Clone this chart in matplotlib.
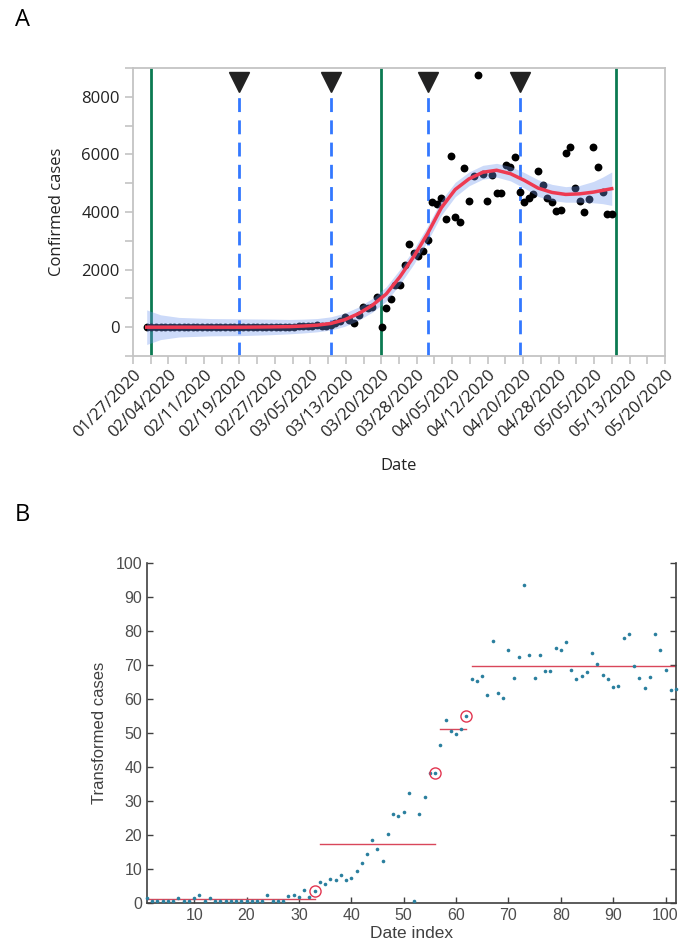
"""Confirmed cases fit (A) + transformed cases with change points (B)"""
import numpy as np
import matplotlib
matplotlib.use("Agg")
import matplotlib.pyplot as plt
from matplotlib.ticker import FixedLocator, MultipleLocator

# ── data ──
date_index = list(range(1, 103))

cases = [2, 0, 0, 0, 0, 0, 2, 0, 0, 2,
         5, 0, 2, 0, 0, 0, 0, 0, 0, 0,
         0, 0, 0, 5, 0, 0, 0, 4, 5, 4,
         14, 4, 13, 40, 30, 52, 45, 69, 48, 53,
         90, 137, 210, 346, 256, 154, 412, 686, 650, 718,
         1050, 0, 681, 980, 1452, 1452, 2153, 2905, 2570, 2460,
         2632, 3025, 4356, 4277, 4476, 3758, 5944, 3819, 3648, 5520,
         4382, 5242, 8761, 5329, 4369, 5300, 4651, 4651, 5625, 5550,
         5898, 4706, 4330, 4476, 4624, 5417, 4942, 4489, 4343, 4020,
         4083, 6053, 6241, 4844, 4369, 4007, 4436, 6241, 5550, 4679,
         3931, 3944]

transformed = [1.5, 0.5, 0.5, 0.5, 0.5, 0.5, 1.4, 0.5, 0.5, 1.4,
               2.3, 0.5, 1.4, 0.5, 0.5, 0.5, 0.5, 0.5, 0.5, 0.5,
               0.5, 0.5, 0.5, 2.3, 0.5, 0.5, 0.5, 2.0, 2.3, 1.9,
               3.7, 1.9, 3.6, 6.3, 5.5, 7.2, 6.7, 8.3, 6.9, 7.3,
               9.5, 11.7, 14.5, 18.6, 16.0, 12.4, 20.3, 26.2, 25.5, 26.8,
               32.4, 0.6, 26.1, 31.3, 38.1, 38.1, 46.4, 53.9, 50.7, 49.6,
               51.3, 55.0, 66.0, 65.4, 66.9, 61.3, 77.1, 61.8, 60.4, 74.3,
               66.2, 72.4, 93.6, 73.0, 66.1, 72.8, 68.2, 68.2, 75.0, 74.5,
               76.8, 68.6, 65.8, 66.9, 68.0, 73.6, 70.3, 67.0, 65.9, 63.4,
               63.9, 77.8, 79.0, 69.6, 66.1, 63.3, 66.6, 79.0, 74.5, 68.4,
               62.7, 62.8]

# fitted curve and its band (half width)
fit_index = [1, 4, 8, 15, 22, 28, 32, 35, 38, 41, 44, 47, 50, 53, 56, 59,
             62, 65, 68, 71, 74, 77, 80, 83, 86, 89, 92, 95, 98, 100, 102]
fit_cases = [0, 0, 0, 0, 0, 10, 20, 40, 70, 130, 260, 470, 760, 1150, 1750, 2450,
             3250, 4150, 4780, 5150, 5380, 5450, 5330, 5100, 4830, 4680, 4610,
             4630, 4690, 4750, 4810]
fit_halfwidth = [600, 430, 340, 300, 290, 270, 250, 240, 230, 230, 230, 230, 240,
                 250, 260, 260, 260, 260, 250, 240, 240, 240, 250, 270, 290, 280,
                 270, 290, 370, 460, 580]

green_lines = [1.9, 51.8, 102.9]
blue_lines = [21.0, 41.0, 62.0, 82.0]

date_labels = ["01/27/2020", "02/04/2020", "02/11/2020", "02/19/2020",
               "02/27/2020", "03/05/2020", "03/13/2020", "03/20/2020",
               "03/28/2020", "04/05/2020", "04/12/2020", "04/20/2020",
               "04/28/2020", "05/05/2020", "05/13/2020", "05/20/2020"]

change_points = [33, 56, 62]
segments = [(1, 33), (34, 56), (57, 62), (63, 102)]

idx = np.array(date_index)
cases = np.array(cases)
transformed = np.array(transformed)
fit_index = np.array(fit_index)
fit_cases = np.array(fit_cases)
fit_halfwidth = np.array(fit_halfwidth)

fig = plt.figure(figsize=(6.85, 9.47), dpi=100)

# ── A ──
fontA = ["Open Sans", "DejaVu Sans"]
axA = fig.add_axes([133 / 685, 1 - 356 / 947, 532 / 685, 288 / 947])
xlimA = (-1.98, 113.57)
axA.set_xlim(*xlimA)
axA.set_ylim(-1000, 9000)

axA.scatter(idx, cases, s=32, color="black", zorder=3, linewidths=0)
axA.fill_between(fit_index, fit_cases - fit_halfwidth, fit_cases + fit_halfwidth,
                 color="#6e95ee", alpha=0.35, linewidth=0, zorder=4)
axA.plot(fit_index, fit_cases, color="#ee3a52", lw=2.5, zorder=5)

for g in green_lines:
    axA.axvline(g, color="#0b7a52", lw=2.0, zorder=2)
for b in blue_lines:
    axA.axvline(b, color="#3378ff", lw=2.0, ls=(0, (5, 3)), zorder=2)
    axA.plot(b, 8500, marker="v", ms=14, color="#222222", zorder=6, clip_on=False)

major = np.linspace(xlimA[0], xlimA[1], len(date_labels))
axA.xaxis.set_major_locator(FixedLocator(major))
axA.xaxis.set_minor_locator(FixedLocator((major[:-1] + major[1:]) / 2))
axA.set_xticklabels(date_labels, rotation=45, ha="right", rotation_mode="anchor",
                    family=fontA, fontsize=12, color="#222222")
axA.yaxis.set_major_locator(FixedLocator([0, 2000, 4000, 6000, 8000]))
axA.yaxis.set_minor_locator(MultipleLocator(1000))
for lab in axA.get_yticklabels():
    lab.set_family(fontA)
    lab.set_fontsize(12)
    lab.set_color("#222222")
axA.tick_params(which="both", direction="out", color="#c4c4c4", length=6, width=1.2)
axA.tick_params(axis="x", which="both", pad=2)
for sp in axA.spines.values():
    sp.set_color("#c4c4c4")
    sp.set_linewidth(1.3)
axA.set_xlabel("Date", family=fontA, fontsize=12, color="#222222", labelpad=12)
axA.set_ylabel("Confirmed cases", family=fontA, fontsize=12, color="#222222", labelpad=12)

fig.text(15 / 685, 1 - 20 / 947, "A", family=fontA, fontsize=17, va="center")
fig.text(15 / 685, 1 - 515 / 947, "B", family=fontA, fontsize=17, va="center")

# ── B ──
fontB = ["Liberation Sans", "DejaVu Sans"]
axB = fig.add_axes([147 / 685, 1 - 903 / 947, 529 / 685, 340 / 947])
axB.set_xlim(1, 102)
axB.set_ylim(0, 100)

for s, e in segments:
    sel = (idx >= s) & (idx <= e)
    axB.plot([s, e], [transformed[sel].mean()] * 2, color="#d9475a", lw=1.0, zorder=2)
axB.plot(idx, transformed, ls="none", marker="o", ms=2.6, mew=0, color="#2a7f9e",
         zorder=3, clip_on=False)
cp = np.array(change_points)
axB.plot(cp, transformed[cp - 1], ls="none", marker="o", ms=8, mfc="none",
         mec="#e23550", mew=1.0, zorder=4)

axB.xaxis.set_major_locator(FixedLocator(range(10, 101, 10)))
axB.yaxis.set_major_locator(FixedLocator(range(0, 101, 10)))
axB.tick_params(direction="in", length=4, width=1, color="#404040",
                labelcolor="#4d4d4d", labelsize=11.5, right=True)
for lab in axB.get_xticklabels() + axB.get_yticklabels():
    lab.set_family(fontB)
for name, sp in axB.spines.items():
    sp.set_color("#404040")
    sp.set_linewidth(1.2)
axB.spines["top"].set_visible(False)
axB.set_xlabel("Date index", family=fontB, fontsize=12.5, color="#404040", labelpad=2)
axB.set_ylabel("Transformed cases", family=fontB, fontsize=12, color="#404040", labelpad=6)

fig.savefig("out.png", dpi=100)
